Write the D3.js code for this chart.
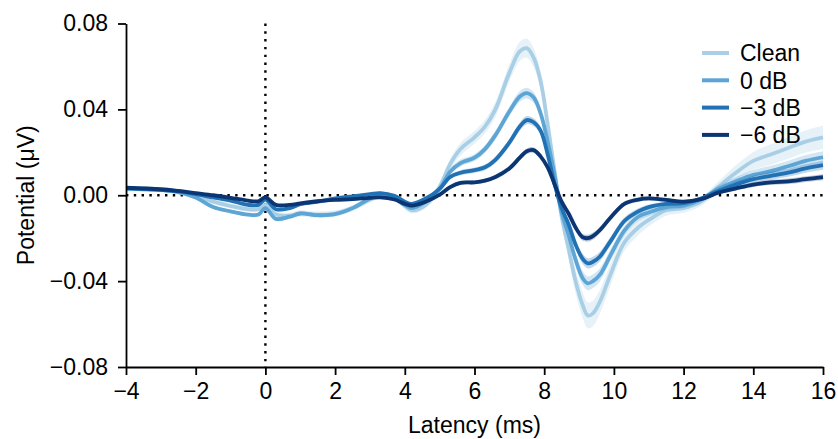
<!DOCTYPE html>
<html>
<head>
<meta charset="utf-8">
<script src="https://cdn.jsdelivr.net/npm/d3@7"></script>
<style>
  body { margin: 0; background: #fff; }
  svg { display: block; }
  text { font-family: "Liberation Sans", Arial, sans-serif; fill: #000; }
</style>
</head>
<body>
<div id="chart"></div>
<script>
// latency grid (ms)
const times = [-4, -3, -2.5, -2, -1.5, -1, -0.5, -0.2, 0, 0.3, 0.7, 1, 1.5, 2, 2.5, 3, 3.3, 3.7, 4, 4.2, 4.6,
  5, 5.3, 5.6, 6, 6.3, 6.6, 7, 7.3, 7.5, 7.7, 7.9, 8.1, 8.3, 8.5, 8.7, 8.9, 9.1, 9.25, 9.4, 9.6, 9.9,
  10.3, 10.7, 11, 11.5, 12, 12.5, 13, 13.5, 14, 14.5, 15, 15.5, 16];

const conditions = ["Clean", "0 dB", "\u22123 dB", "\u22126 dB"];
const colors = ["#a9cfe6", "#5da5d5", "#2171b5", "#0b3573"];

// mean potential (µV)
const clean = [0.0030, 0.0025, 0.0015, -0.0005, -0.0030, -0.0050, -0.0065, -0.0065, -0.0045, -0.0090, -0.0095,
  -0.0085, -0.0090, -0.0085, -0.0060, -0.0020, 0.0000, -0.0010, -0.0050, -0.0070, -0.0045,
  0.0040, 0.0145, 0.0215, 0.0270, 0.0320, 0.0400, 0.0570, 0.0670, 0.0685, 0.0640, 0.0530, 0.0330,
  0.0110, -0.0100, -0.0250, -0.0400, -0.0510, -0.0560, -0.0550, -0.0495, -0.0370,
  -0.0220, -0.0150, -0.0115, -0.0070, -0.0060, -0.0030, 0.0040, 0.0105, 0.0160, 0.0190, 0.0220, 0.0250, 0.0270];
const db0 = [0.0030, 0.0025, 0.0015, -0.0010, -0.0055, -0.0075, -0.0090, -0.0090, -0.0060, -0.0110, -0.0100,
  -0.0085, -0.0093, -0.0088, -0.0060, -0.0015, 0.0000, -0.0015, -0.0045, -0.0060, -0.0030,
  0.0030, 0.0110, 0.0150, 0.0175, 0.0215, 0.0280, 0.0390, 0.0460, 0.0476, 0.0455, 0.0380, 0.0250,
  0.0090, -0.0080, -0.0185, -0.0300, -0.0385, -0.0410, -0.0400, -0.0370, -0.0280,
  -0.0165, -0.0100, -0.0080, -0.0055, -0.0048, -0.0020, 0.0030, 0.0065, 0.0095, 0.0112, 0.0135, 0.0160, 0.0177];
const dbm3 = [0.0033, 0.0025, 0.0018, 0.0005, -0.0010, -0.0025, -0.0045, -0.0045, -0.0020, -0.0065, -0.0060,
  -0.0042, -0.0030, -0.0015, -0.0005, 0.0005, 0.0010, -0.0003, -0.0030, -0.0040, -0.0015,
  0.0030, 0.0085, 0.0105, 0.0117, 0.0130, 0.0165, 0.0245, 0.0320, 0.0350, 0.0340, 0.0300, 0.0190,
  0.0050, -0.0060, -0.0135, -0.0230, -0.0295, -0.0317, -0.0310, -0.0285, -0.0215,
  -0.0120, -0.0075, -0.0055, -0.0040, -0.0037, -0.0015, 0.0020, 0.0050, 0.0075, 0.0090, 0.0105, 0.0125, 0.0140];
const dbm6 = [0.0035, 0.0028, 0.0020, 0.0010, 0.0000, -0.0012, -0.0025, -0.0028, -0.0010, -0.0045, -0.0045,
  -0.0038, -0.0028, -0.0022, -0.0018, -0.0012, -0.0010, -0.0020, -0.0040, -0.0048, -0.0030,
  0.0003, 0.0038, 0.0058, 0.0060, 0.0068, 0.0085, 0.0125, 0.0175, 0.0205, 0.0210, 0.0180, 0.0130,
  0.0050, -0.0030, -0.0085, -0.0150, -0.0195, -0.0200, -0.0190, -0.0162, -0.0105,
  -0.0040, -0.0020, -0.0015, -0.0022, -0.0030, -0.0018, 0.0012, 0.0032, 0.0050, 0.0060, 0.0065, 0.0075, 0.0084];

// confidence half-widths (µV)
const ciClean = [0.0012, 0.0012, 0.0012, 0.0012, 0.0012, 0.0012, 0.0012, 0.0012, 0.0015, 0.0015, 0.0015,
  0.0015, 0.0015, 0.0015, 0.0015, 0.0015, 0.0015, 0.0015, 0.0015, 0.0015, 0.0015,
  0.0020, 0.0025, 0.0030, 0.0030, 0.0032, 0.0035, 0.0040, 0.0045, 0.0045, 0.0045, 0.0040, 0.0035,
  0.0030, 0.0035, 0.0045, 0.0055, 0.0060, 0.0060, 0.0060, 0.0055, 0.0050,
  0.0040, 0.0035, 0.0030, 0.0025, 0.0022, 0.0020, 0.0025, 0.0035, 0.0042, 0.0048, 0.0050, 0.0052, 0.0055];
const ci0 = [0.0008, 0.0008, 0.0008, 0.0008, 0.0008, 0.0008, 0.0008, 0.0008, 0.0009, 0.0009, 0.0009,
  0.0009, 0.0009, 0.0009, 0.0009, 0.0009, 0.0009, 0.0009, 0.0009, 0.0009, 0.0009,
  0.0012, 0.0014, 0.0016, 0.0016, 0.0018, 0.0020, 0.0022, 0.0025, 0.0025, 0.0025, 0.0022, 0.0020,
  0.0018, 0.0020, 0.0025, 0.0030, 0.0032, 0.0032, 0.0032, 0.0030, 0.0028,
  0.0022, 0.0020, 0.0018, 0.0015, 0.0013, 0.0012, 0.0015, 0.0020, 0.0023, 0.0025, 0.0026, 0.0027, 0.0028];
const ci3 = [0.0006, 0.0006, 0.0006, 0.0006, 0.0006, 0.0006, 0.0006, 0.0006, 0.0007, 0.0007, 0.0007,
  0.0007, 0.0007, 0.0007, 0.0007, 0.0007, 0.0007, 0.0007, 0.0007, 0.0007, 0.0007,
  0.0009, 0.0010, 0.0012, 0.0012, 0.0013, 0.0015, 0.0017, 0.0019, 0.0019, 0.0019, 0.0017, 0.0015,
  0.0013, 0.0015, 0.0018, 0.0022, 0.0024, 0.0024, 0.0024, 0.0022, 0.0020,
  0.0016, 0.0014, 0.0012, 0.0010, 0.0009, 0.0009, 0.0011, 0.0014, 0.0016, 0.0018, 0.0019, 0.0020, 0.0021];
const ci6 = [0.0005, 0.0005, 0.0005, 0.0005, 0.0005, 0.0005, 0.0005, 0.0005, 0.0005, 0.0005, 0.0005,
  0.0005, 0.0005, 0.0005, 0.0005, 0.0005, 0.0005, 0.0005, 0.0005, 0.0005, 0.0005,
  0.0007, 0.0008, 0.0009, 0.0009, 0.0010, 0.0011, 0.0012, 0.0013, 0.0013, 0.0013, 0.0012, 0.0011,
  0.0010, 0.0011, 0.0013, 0.0015, 0.0016, 0.0016, 0.0016, 0.0015, 0.0014,
  0.0011, 0.0010, 0.0009, 0.0008, 0.0007, 0.0007, 0.0008, 0.0010, 0.0011, 0.0012, 0.0013, 0.0013, 0.0014];

const xTicks = [-4, -2, 0, 2, 4, 6, 8, 10, 12, 14, 16];
const yTicks = [-0.08, -0.04, 0.00, 0.04, 0.08];

const series = [clean, db0, dbm3, dbm6];
const cis = [ciClean, ci0, ci3, ci6];

const W = 838, H = 439;
const margin = { left: 126, right: 15, top: 23.5, bottom: 72 };
const fontSize = 23;

const svg = d3.select("#chart").append("svg").attr("width", W).attr("height", H);

const x = d3.scaleLinear().domain([-4, 16]).range([margin.left, W - margin.right]);
const y = d3.scaleLinear().domain([-0.08, 0.08]).range([H - margin.bottom, margin.top]);

// reference lines
svg.append("line").attr("x1", x(-4)).attr("x2", x(16)).attr("y1", y(0)).attr("y2", y(0))
  .attr("stroke", "#000").attr("stroke-width", 2.4).attr("stroke-dasharray", "2.4,5.4");
svg.append("line").attr("x1", x(0)).attr("x2", x(0)).attr("y1", y(0.08)).attr("y2", y(-0.08))
  .attr("stroke", "#000").attr("stroke-width", 2.4).attr("stroke-dasharray", "2.4,5.4");

const curve = d3.curveCatmullRom.alpha(0.5);
const area = (vals, ci) => d3.area().curve(curve)
  .x((d, i) => x(times[i])).y0((d, i) => y(vals[i] - ci[i])).y1((d, i) => y(vals[i] + ci[i]))(times);
const line = (vals) => d3.line().curve(curve)
  .x((d, i) => x(times[i])).y((d, i) => y(vals[i]))(times);

series.forEach((vals, k) => {
  svg.append("path").attr("d", area(vals, cis[k]))
    .attr("fill", colors[k]).attr("fill-opacity", 0.28).attr("stroke", "none");
  svg.append("path").attr("d", line(vals))
    .attr("fill", "none").attr("stroke", colors[k]).attr("stroke-width", 3.8)
    .attr("stroke-linejoin", "round").attr("stroke-linecap", "butt");
});

// axes
const fmtY = v => (v < 0 ? "\u2212" : "") + Math.abs(v).toFixed(2);
const fmtX = v => (v < 0 ? "\u2212" : "") + Math.abs(v);

const gx = svg.append("g").attr("transform", `translate(0,${y(-0.08)})`)
  .call(d3.axisBottom(x).tickValues(xTicks).tickFormat(fmtX).tickSize(8).tickPadding(8).tickSizeOuter(0));
const gy = svg.append("g").attr("transform", `translate(${x(-4)},0)`)
  .call(d3.axisLeft(y).tickValues(yTicks).tickFormat(fmtY).tickSize(8).tickPadding(10).tickSizeOuter(0));

[gx, gy].forEach(g => {
  g.select(".domain").attr("stroke", "#000").attr("stroke-width", 1.8);
  g.selectAll(".tick line").attr("stroke", "#000").attr("stroke-width", 1.8);
  g.selectAll(".tick text").attr("font-size", fontSize).attr("font-family", "Liberation Sans, Arial, sans-serif").attr("fill", "#000");
});

svg.append("text").attr("x", (x(-4) + x(16)) / 2).attr("y", 433)
  .attr("text-anchor", "middle").attr("font-size", fontSize).text("Latency (ms)");
svg.append("text").attr("transform", `translate(34,${(y(0.08) + y(-0.08)) / 2}) rotate(-90)`)
  .attr("text-anchor", "middle").attr("font-size", fontSize).text("Potential (\u03bcV)");

// legend
const legend = svg.append("g").attr("transform", "translate(702,53)");
conditions.forEach((name, k) => {
  const row = legend.append("g").attr("transform", `translate(0,${k * 27.3})`);
  row.append("line").attr("x1", 0).attr("x2", 27).attr("y1", 0).attr("y2", 0)
    .attr("stroke", colors[k]).attr("stroke-width", 4);
  row.append("text").attr("x", 38).attr("y", 0).attr("dy", "0.36em")
    .attr("font-size", fontSize).text(name);
});
</script>
</body>
</html>
